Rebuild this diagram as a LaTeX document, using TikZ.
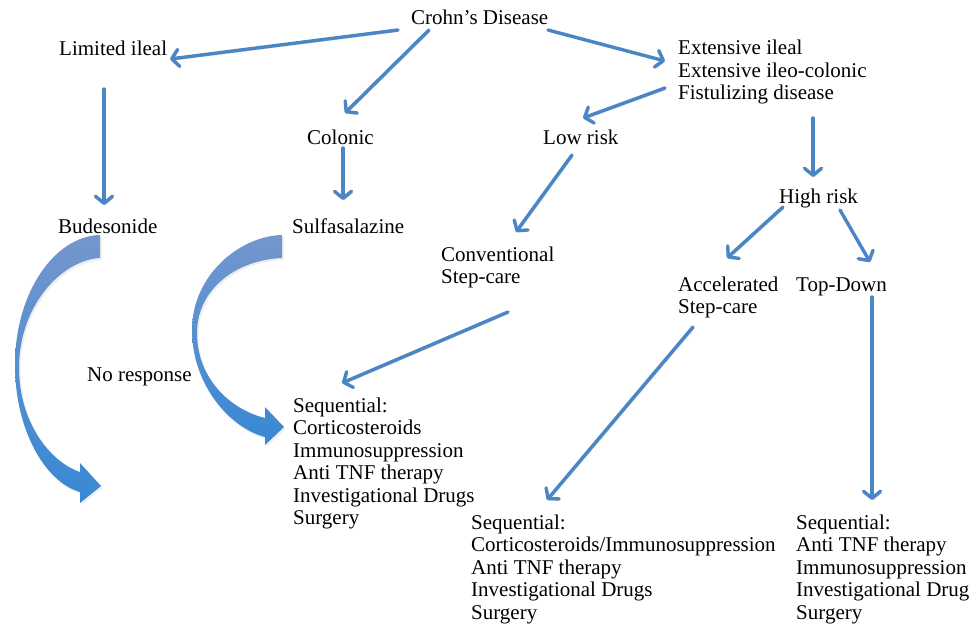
\documentclass[tikz,border=0pt]{standalone}
\usepackage{fontspec}
\setmainfont{Liberation Serif}
\usetikzlibrary{arrows.meta}
\definecolor{arrblue}{RGB}{74,134,198}
\definecolor{curvtop}{RGB}{116,150,205}
\definecolor{curvbot}{RGB}{56,136,212}
\newcommand{\lines}[1]{\begin{tabular}[t]{@{}l@{}}#1\end{tabular}}
\begin{document}
\begin{tikzpicture}[x=1pt,y=-1pt,
  lbl/.style={inner sep=0pt, anchor=base west, font=\fontsize{21}{22.5}\selectfont},
  conn/.style={draw=arrblue, line width=3.4pt, line cap=round, line join=round,
    -{Straight Barb[length=7pt,width=17pt,line cap=round,line join=round]},
    preaction={draw=black!20, transform canvas={shift={(1.2pt,-1.6pt)}}}},
  bigarrow/.style={top color=curvtop, bottom color=curvbot, draw=none},
  bigshadow/.style={fill=black!25, opacity=0.25, draw=none}
]
\useasboundingbox (0,0) rectangle (972,626);
\fill[white] (0,0) rectangle (972,626);

% texts
\node[lbl] (crohn) at (411,25) {Crohn’s Disease};
\node[lbl] (limited) at (59,56) {Limited ileal};
\node[lbl] (ext) at (678,55) {\lines{Extensive ileal\\Extensive ileo-colonic\\Fistulizing disease}};
\node[lbl] (colonic) at (307,144) {Colonic};
\node[lbl] (low) at (543,144) {Low risk};
\node[lbl] (high) at (779,203) {High risk};
\node[lbl] (bud) at (58,233) {Budesonide};
\node[lbl] (sulfa) at (292,233) {Sulfasalazine};
\node[lbl] (conv) at (441,261) {\lines{Conventional\\Step-care}};
\node[lbl] (accel) at (678,291) {\lines{Accelerated\\Step-care}};
\node[lbl] (top) at (796,291) {Top-Down};
\node[lbl] (nores) at (87,381) {No response};
\node[lbl] (seqA) at (293,412) {\lines{Sequential:\\Corticosteroids\\Immunosuppression\\Anti TNF therapy\\Investigational Drugs\\Surgery}};
\node[lbl] (seqB) at (471,529) {\lines{Sequential:\\Corticosteroids/Immunosuppression\\Anti TNF therapy\\Investigational Drugs\\Surgery}};
\node[lbl] (seqC) at (796,529) {\lines{Sequential:\\Anti TNF therapy\\Immunosuppression\\Investigational Drug\\Surgery}};

% connector end points
\coordinate (a1) at (398,30);  \coordinate (b1) at (170,59);
\coordinate (a2) at (429,30);  \coordinate (b2) at (345,113);
\coordinate (a3) at (548,30);  \coordinate (b3) at (665,61);
\coordinate (a4) at (104,89);  \coordinate (b4) at (104,205);
\coordinate (a5) at (343,148); \coordinate (b5) at (343,200);
\coordinate (a6) at (665,88);  \coordinate (b6) at (583,118);
\coordinate (a7) at (813,118); \coordinate (b7) at (813,177);
\coordinate (a8) at (572,155); \coordinate (b8) at (516,232);
\coordinate (a9) at (783,207); \coordinate (b9) at (727,258);
\coordinate (a10) at (840,210); \coordinate (b10) at (870,262);
\coordinate (a11) at (508,312); \coordinate (b11) at (342,383);
\coordinate (a12) at (693,327); \coordinate (b12) at (547,500);
\coordinate (a13) at (872,297); \coordinate (b13) at (872,500);

\foreach \i in {1,...,13} { \draw[conn] (a\i) -- (b\i); }

% big curved arrows
\def\curveA{(100,235) .. controls (55,236) and (15,292) .. (15,365) .. controls (15,430) and (45,482) .. (80,492) -- (80,503) -- (101,486) -- (80,463) -- (80,472) .. controls (50,462) and (19,422) .. (19,368) .. controls (19,305) and (62,260) .. (100,258) -- cycle}
\def\curveB{(282,235) .. controls (240,236) and (192,275) .. (192,330) .. controls (192,385) and (230,428) .. (265,437) -- (265,445) -- (284,427) -- (265,407) -- (265,418) .. controls (232,410) and (197,380) .. (197,333) .. controls (197,290) and (235,260) .. (282,258) -- cycle}
\begin{scope}[shift={(1.5,2)}]
  \path[bigshadow] \curveA;
  \path[bigshadow] \curveB;
\end{scope}
\path[bigarrow] \curveA;
\path[bigarrow] \curveB;
\end{tikzpicture}
\end{document}
